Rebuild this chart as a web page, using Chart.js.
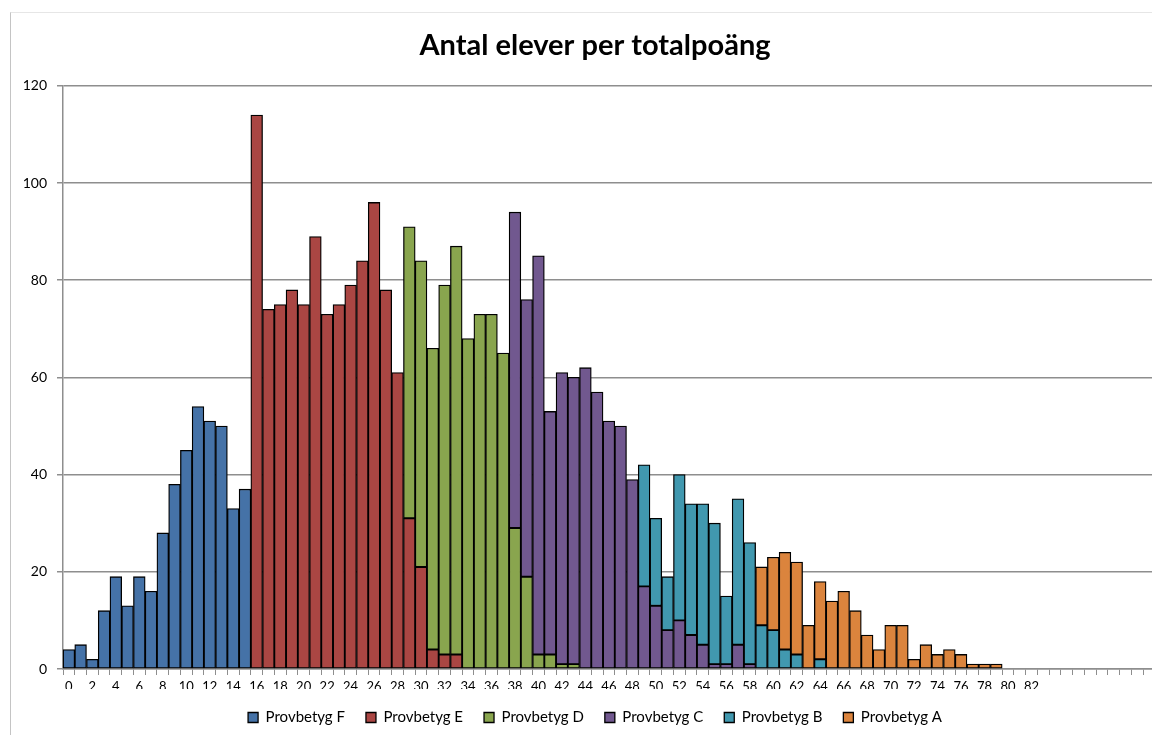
<!DOCTYPE html>
<html>
<head>
<meta charset="utf-8">
<script src="https://cdn.jsdelivr.net/npm/chart.js@4"></script>
<style>
  html, body { margin: 0; padding: 0; background: #fff; overflow: hidden; }
  .frame { position: absolute; left: 10px; top: 12px; width: 1200px; height: 740px;
           border-left: 1px solid #c4c4c4; border-top: 1px solid #e6e6e6; }
  .wrap { position: absolute; left: 0; top: 0; width: 1190px; height: 735px; }
</style>
</head>
<body>
<div class="frame"></div>
<div class="wrap"><canvas id="poang"></canvas></div>
<script>
// totalpoäng 0..95 (labels only printed up to 82)
const scores = ['0','1','2','3','4','5','6','7','8','9','10','11','12','13','14','15','16','17','18','19',
  '20','21','22','23','24','25','26','27','28','29','30','31','32','33','34','35','36','37','38','39',
  '40','41','42','43','44','45','46','47','48','49','50','51','52','53','54','55','56','57','58','59',
  '60','61','62','63','64','65','66','67','68','69','70','71','72','73','74','75','76','77','78','79',
  '80','81','82','','','','','','','','','','','','',''];

// antal elever per poäng och provbetyg (0 = ingen stapel)
const gradeF = [4,5,2,12,19,13,19,16,28,38,45,54,51,50,33,37];
const gradeE = [0,0,0,0,0,0,0,0,0,0,0,0,0,0,0,0,
  114,74,75,78,75,89,73,75,79,84,96,78,61,31,21,4,3,3];
const gradeD = [0,0,0,0,0,0,0,0,0,0,0,0,0,0,0,0,0,0,0,0,0,0,0,0,0,0,0,0,0,
  60,63,62,76,84,68,73,73,65,29,19,3,3,1,1];
const gradeC = [0,0,0,0,0,0,0,0,0,0,0,0,0,0,0,0,0,0,0,0,0,0,0,0,0,0,0,0,0,0,0,0,0,0,0,0,0,0,
  65,57,82,50,60,59,62,57,51,50,39,17,13,8,10,7,5,1,1,5,1];
const gradeB = [0,0,0,0,0,0,0,0,0,0,0,0,0,0,0,0,0,0,0,0,0,0,0,0,0,0,0,0,0,0,0,0,0,0,0,0,0,0,0,0,
  0,0,0,0,0,0,0,0,0,25,18,11,30,27,29,29,14,30,25,9,8,4,3,0,2];
const gradeA = [0,0,0,0,0,0,0,0,0,0,0,0,0,0,0,0,0,0,0,0,0,0,0,0,0,0,0,0,0,0,0,0,0,0,0,0,0,0,0,0,
  0,0,0,0,0,0,0,0,0,0,0,0,0,0,0,0,0,0,0,12,15,20,19,9,16,14,16,12,7,4,9,9,2,5,3,4,3,1,1,1];

const names = ['Provbetyg F','Provbetyg E','Provbetyg D','Provbetyg C','Provbetyg B','Provbetyg A'];
const colors = ['#4572A7','#AA4643','#89A54E','#71588F','#4198AF','#DB843D'];

function noZero(arr) {
  return arr.map(v => v === 0 ? null : v);
}

const series = [gradeF, gradeE, gradeD, gradeC, gradeB, gradeA];
const datasets = series.map((s, i) => ({
  label: names[i],
  data: noZero(s),
  backgroundColor: colors[i],
  borderColor: '#000',
  borderWidth: 1.3,
  borderSkipped: false,
  barPercentage: 1,
  categoryPercentage: 1
}));

const gray = '#8e8e8e';
var ctx = document.getElementById('poang');
new Chart(ctx, {
  type: 'bar',
  data: { labels: scores, datasets: datasets },
  options: {
    responsive: true,
    maintainAspectRatio: false,
    animation: false,
    layout: { padding: 0 },
    plugins: {
      title: {
        display: true,
        text: 'Antal elever per totalpoäng',
        color: '#000',
        font: { family: 'Lato', size: 29, weight: 'bold' },
        padding: { top: 28, bottom: 23 }
      },
      legend: {
        position: 'bottom',
        labels: {
          color: '#000',
          font: { family: 'Lato', size: 15 },
          boxWidth: 10,
          boxHeight: 10,
          padding: 21
        }
      },
      tooltip: { enabled: false }
    },
    scales: {
      x: {
        stacked: true,
        grid: { display: true, drawOnChartArea: false, offset: true, color: gray, tickLength: 6, lineWidth: 1 },
        border: { color: gray, width: 1.5 },
        ticks: {
          autoSkip: false,
          maxRotation: 0,
          minRotation: 0,
          color: '#000',
          font: { family: 'Lato', size: 13 },
          padding: 4,
          callback: function (val, i) { return i % 2 === 0 ? this.getLabelForValue(val) : ''; }
        },
        afterFit: function (scale) { scale.height = 20; }
      },
      y: {
        stacked: true,
        min: 0,
        max: 120,
        grid: { color: gray, lineWidth: 1.5, tickLength: 6 },
        border: { color: gray, width: 1.5 },
        ticks: {
          stepSize: 20,
          color: '#000',
          font: { family: 'Lato', size: 14 },
          padding: 10
        },
        afterFit: function (scale) { scale.width = 63; }
      }
    }
  }
});
</script>
</body>
</html>
